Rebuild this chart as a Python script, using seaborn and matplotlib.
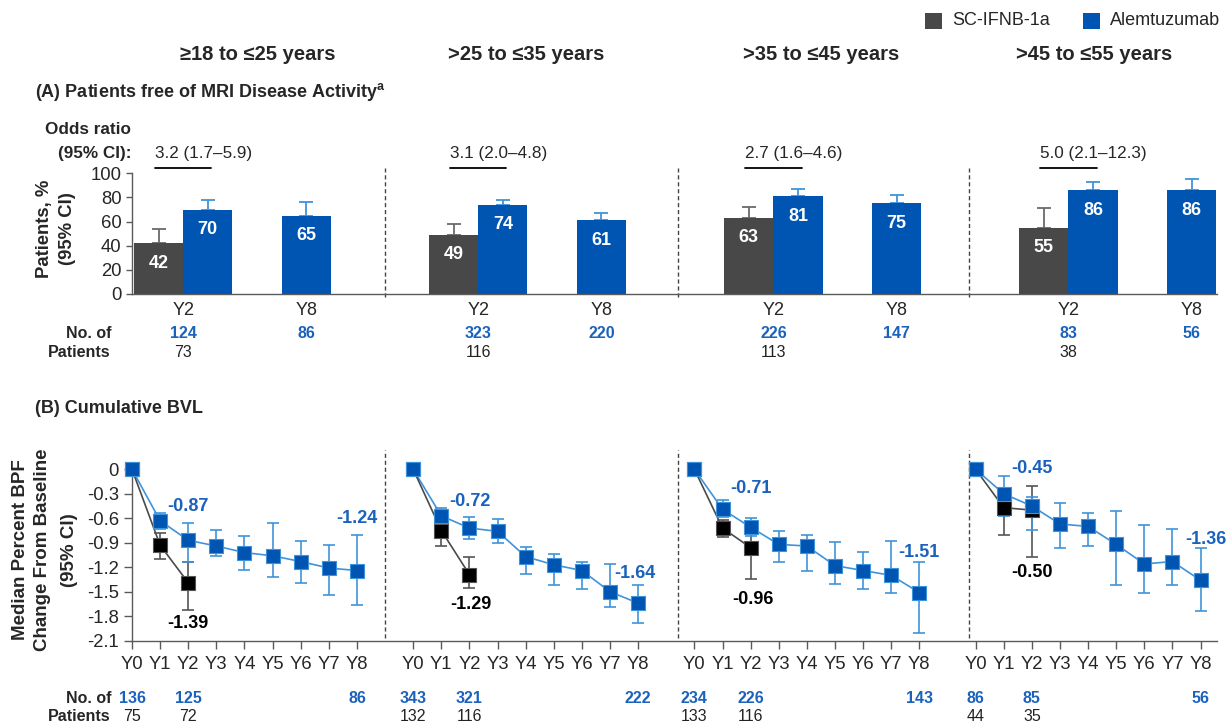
import numpy as np
import pandas as pd
import matplotlib
matplotlib.use("Agg")
import matplotlib.pyplot as plt
from matplotlib.patches import Rectangle
from matplotlib.transforms import blended_transform_factory
import seaborn as sns

# ---------------- data ----------------
age_groups = ["≥18 to ≤25 years", ">25 to ≤35 years", ">35 to ≤45 years", ">45 to ≤55 years"]
arms = ["SC-IFNB-1a", "Alemtuzumab"]

# (A) Patients free of MRI disease activity, % (upper 95% CI)
ifnb_y2_pct = [42, 49, 63, 55]
ifnb_y2_upper = [54, 58, 72, 71]
alem_y2_pct = [70, 74, 81, 86]
alem_y2_upper = [78, 78, 87, 93]
alem_y8_pct = [65, 61, 75, 86]
alem_y8_upper = [76, 67, 82, 95]
odds_ratios = ["3.2 (1.7–5.9)", "3.1 (2.0–4.8)", "2.7 (1.6–4.6)", "5.0 (2.1–12.3)"]
alem_y2_n_mri = [124, 323, 226, 83]
alem_y8_n_mri = [86, 220, 147, 56]
ifnb_y2_n_mri = [73, 116, 113, 38]

# (B) Cumulative BVL: median % BPF change from baseline with 95% CI
years = ["Y0", "Y1", "Y2", "Y3", "Y4", "Y5", "Y6", "Y7", "Y8"]
alem_bvl = [
    [0, -0.63, -0.87, -0.94, -1.02, -1.06, -1.13, -1.21, -1.24],
    [0, -0.57, -0.72, -0.76, -1.07, -1.17, -1.24, -1.50, -1.64],
    [0, -0.49, -0.71, -0.92, -0.94, -1.18, -1.24, -1.30, -1.51],
    [0, -0.30, -0.45, -0.67, -0.70, -0.92, -1.16, -1.13, -1.36],
]
alem_bvl_lo = [
    [0, -0.73, -1.14, -1.06, -1.23, -1.32, -1.39, -1.54, -1.66],
    [0, -0.63, -0.85, -0.90, -1.28, -1.42, -1.47, -1.69, -1.88],
    [0, -0.58, -0.82, -1.13, -1.24, -1.40, -1.47, -1.51, -2.01],
    [0, -0.57, -0.74, -0.97, -0.94, -1.42, -1.51, -1.42, -1.73],
]
alem_bvl_hi = [
    [0, -0.53, -0.66, -0.74, -0.82, -0.66, -0.88, -0.93, -0.81],
    [0, -0.47, -0.58, -0.61, -0.95, -1.04, -1.14, -1.16, -1.42],
    [0, -0.38, -0.60, -0.75, -0.80, -0.89, -1.01, -0.88, -1.14],
    [0, -0.08, -0.34, -0.41, -0.54, -0.51, -0.68, -0.73, -0.97],
]
ifnb_bvl = [
    [0, -0.93, -1.39],
    [0, -0.75, -1.29],
    [0, -0.72, -0.96],
    [0, -0.47, -0.50],
]
ifnb_bvl_lo = [
    [0, -1.10, -1.72],
    [0, -0.94, -1.45],
    [0, -0.83, -1.34],
    [0, -0.81, -1.08],
]
ifnb_bvl_hi = [
    [0, -0.78, -1.13],
    [0, -0.65, -1.08],
    [0, -0.62, -0.75],
    [0, -0.30, -0.20],
]
alem_n_bvl = [[136, 125, 86], [343, 321, 222], [234, 226, 143], [86, 85, 56]]
ifnb_n_bvl = [[75, 72], [132, 116], [133, 116], [44, 35]]

# ---------------- style ----------------
sns.set_theme(style="ticks")
plt.rcParams["font.family"] = ["Liberation Sans", "DejaVu Sans"]
plt.rcParams["mathtext.fontset"] = "custom"
plt.rcParams["mathtext.rm"] = "Liberation Sans"
plt.rcParams["mathtext.bf"] = "Liberation Sans:bold"

GRAY = "#484848"
BLUE = "#0055b2"
LIGHT_BLUE = "#3f93da"
ERR_GRAY = "#6a6a6a"
TXT_BLUE = "#1a62bd"
AXIS = "#5a5a5a"

W, H = 1231, 725


def fx(px):
    return px / W


def fy(py):
    return 1 - py / H


fig = plt.figure(figsize=(W / 100, H / 100), dpi=100)

# shared horizontal layout: one unit = one study year in panel B
XMAX = 38.6
UNIT_PX = 28.12
ax_left, ax_w = fx(132), XMAX * UNIT_PX / W
axA = fig.add_axes([ax_left, fy(294), ax_w, (294 - 173.3) / H])
axB = fig.add_axes([ax_left, fy(640.7), ax_w, (640.7 - 469.3) / H])

separators = [9.0, 19.4, 29.77]
group_step_b = 10
a_y2_center = [1.82, 12.31, 22.81, 33.30]
a_y8_shift = 4.38
bar_w = 1.75

# ---------------- panel A ----------------
rows = []
for g in range(4):
    c = a_y2_center[g]
    rows.append(dict(x=c - bar_w / 2, pct=ifnb_y2_pct[g], upper=ifnb_y2_upper[g], arm=arms[0]))
    rows.append(dict(x=c + bar_w / 2, pct=alem_y2_pct[g], upper=alem_y2_upper[g], arm=arms[1]))
    rows.append(dict(x=c + a_y8_shift, pct=alem_y8_pct[g], upper=alem_y8_upper[g], arm=arms[1]))
dfA = pd.DataFrame(rows)

sns.barplot(data=dfA, x="x", y="pct", hue="arm", palette={arms[0]: GRAY, arms[1]: BLUE},
            native_scale=True, width=1.0, dodge=False, saturation=1, errorbar=None,
            legend=False, ax=axA, zorder=2, linewidth=0)

for arm, col in [(arms[0], ERR_GRAY), (arms[1], LIGHT_BLUE)]:
    sub = dfA[dfA["arm"] == arm]
    axA.errorbar(sub["x"], sub["pct"], yerr=[np.zeros(len(sub)), sub["upper"] - sub["pct"]],
                 fmt="none", ecolor=col, elinewidth=1.3, capsize=5, capthick=1.3, zorder=1)

for _, r in dfA.iterrows():
    axA.annotate(f"{r['pct']:.0f}", (r["x"], r["pct"]), xytext=(0, -20), textcoords="offset pixels",
                 ha="center", va="center", color="white", fontsize=13, fontweight="bold", zorder=3)

for g in range(4):
    c = a_y2_center[g]
    axA.plot([c - 1.0, c + 1.0], [104.6, 104.6], color="black", lw=1.3, clip_on=False)
    axA.text(c - 1.0, 116.6, odds_ratios[g], ha="left", va="center", fontsize=12.3)

for s in separators:
    axA.plot([s, s], [-2.5, 104.4], ls=(0, (3, 2)), color="#444444", lw=1, clip_on=False)

axA.set_xlim(0, XMAX)
axA.set_ylim(0, 100)
axA.set_yticks(range(0, 101, 20))
xt = []
xl = []
for g in range(4):
    xt += [a_y2_center[g], a_y2_center[g] + a_y8_shift]
    xl += ["Y2", "Y8"]
axA.set_xticks(xt)
axA.set_xticklabels(xl)
axA.tick_params(axis="x", length=0, pad=6, labelsize=13)
axA.tick_params(axis="y", length=4.5, width=1, color=AXIS, pad=3, labelsize=13.3)
axA.set_xlabel("")
axA.set_ylabel("")
sns.despine(ax=axA)
for sp in ["left", "bottom"]:
    axA.spines[sp].set_color(AXIS)
    axA.spines[sp].set_linewidth(1)

trA = blended_transform_factory(axA.transData, fig.transFigure)
for g in range(4):
    c = a_y2_center[g]
    axA.text(c, fy(333.3), str(alem_y2_n_mri[g]), transform=trA, ha="center", va="center",
             color=TXT_BLUE, fontsize=11.5, fontweight="bold")
    axA.text(c, fy(352.7), str(ifnb_y2_n_mri[g]), transform=trA, ha="center", va="center",
             color="#222222", fontsize=11.5)
    axA.text(c + a_y8_shift, fy(333.3), str(alem_y8_n_mri[g]), transform=trA, ha="center",
             va="center", color=TXT_BLUE, fontsize=11.5, fontweight="bold")

# ---------------- panel B ----------------
rowsB = []
for g in range(4):
    for k in range(len(alem_bvl[g])):
        rowsB.append(dict(x=group_step_b * g + k, med=alem_bvl[g][k], lo=alem_bvl_lo[g][k],
                          hi=alem_bvl_hi[g][k], arm=arms[1], group=g))
    for k in range(len(ifnb_bvl[g])):
        rowsB.append(dict(x=group_step_b * g + k, med=ifnb_bvl[g][k], lo=ifnb_bvl_lo[g][k],
                          hi=ifnb_bvl_hi[g][k], arm=arms[0], group=g))
dfB = pd.DataFrame(rowsB)

sns.lineplot(data=dfB, x="x", y="med", hue="arm", units="group", estimator=None,
             palette={arms[0]: "#4a4a4a", arms[1]: LIGHT_BLUE}, lw=1.2, legend=False,
             sort=False, ax=axB, zorder=2, clip_on=False)

for arm, col in [(arms[0], "#555555"), (arms[1], LIGHT_BLUE)]:
    sub = dfB[(dfB["arm"] == arm) & (dfB["x"] % group_step_b != 0)]
    axB.errorbar(sub["x"], sub["med"], yerr=[sub["med"] - sub["lo"], sub["hi"] - sub["med"]],
                 fmt="none", ecolor=col, elinewidth=1.2, capsize=4, capthick=1.2, zorder=3)

sns.scatterplot(data=dfB[dfB["arm"] == arms[0]], x="x", y="med", marker="s", s=98,
                color="black", edgecolor="#555555", linewidth=0.8, zorder=4, clip_on=False,
                legend=False, ax=axB)
sns.scatterplot(data=dfB[dfB["arm"] == arms[1]], x="x", y="med", marker="s", s=98,
                color=BLUE, edgecolor=LIGHT_BLUE, linewidth=0.8, zorder=5, clip_on=False,
                legend=False, ax=axB)

# value labels (placement anchors in data units)
alem_y2_label_y = [-0.46, -0.40, -0.23, 0.01]
alem_y8_label_y = [-0.60, -1.28, -1.02, -0.86]
alem_y8_label_dx = [0, -0.12, 0, 0.19]
ifnb_y2_label_y = [-1.89, -1.66, -1.59, -1.27]
ifnb_y2_label_dx = [0, 0.05, 0.09, 0]
for g in range(4):
    x0 = group_step_b * g
    axB.text(x0 + 2, alem_y2_label_y[g], f"{alem_bvl[g][2]:.2f}", ha="center", va="center",
             color=TXT_BLUE, fontsize=13, fontweight="bold", zorder=6, clip_on=False)
    axB.text(x0 + 8 + alem_y8_label_dx[g], alem_y8_label_y[g], f"{alem_bvl[g][8]:.2f}",
             ha="center", va="center", color=TXT_BLUE, fontsize=13, fontweight="bold", zorder=6)
    axB.text(x0 + 2 + ifnb_y2_label_dx[g], ifnb_y2_label_y[g], f"{ifnb_bvl[g][2]:.2f}",
             ha="center", va="center", color="black", fontsize=13, fontweight="bold", zorder=6)

for s in separators:
    axB.plot([s, s], [-2.067, 0.236], ls=(0, (3, 2)), color="#444444", lw=1, clip_on=False)

axB.set_xlim(0, XMAX)
axB.set_ylim(-2.1, 0)
yt = np.round(np.arange(0, -2.11, -0.3), 1)
axB.set_yticks(yt)
axB.set_yticklabels(["0" if v == 0 else f"{v:.1f}" for v in yt])
bx = [group_step_b * g + k for g in range(4) for k in range(len(years))]
axB.set_xticks(bx)
axB.set_xticklabels(years * 4)
axB.tick_params(axis="x", length=5.8, width=1, color=AXIS, pad=5, labelsize=13.3)
axB.tick_params(axis="y", length=5.5, width=1, color=AXIS, pad=4, labelsize=13.3)
axB.set_xlabel("")
axB.set_ylabel("")
sns.despine(ax=axB)
axB.spines["left"].set_bounds(-2.1, 0)
for sp in ["left", "bottom"]:
    axB.spines[sp].set_color(AXIS)
    axB.spines[sp].set_linewidth(1)

trB = blended_transform_factory(axB.transData, fig.transFigure)
for g in range(4):
    x0 = group_step_b * g
    for k, n in zip([0, 2, 8], alem_n_bvl[g]):
        axB.text(x0 + k, fy(698.3), str(n), transform=trB, ha="center", va="center",
                 color=TXT_BLUE, fontsize=11.5, fontweight="bold")
    for k, n in zip([0, 2], ifnb_n_bvl[g]):
        axB.text(x0 + k, fy(716.7), str(n), transform=trB, ha="center", va="center",
                 color="#222222", fontsize=11.5)

# ---------------- figure text ----------------
for cx, lab in zip([258, 526, 821, 1094], age_groups):
    fig.text(fx(cx), fy(55), lab, ha="center", va="center", fontsize=14.5, fontweight="bold")

fig.text(fx(35), fy(91.7), r"(A) Patients free of MRI Disease Activity$^{\mathbf{a}}$",
         ha="left", va="center", fontsize=13, fontweight="bold")
fig.text(fx(35), fy(408.3), "(B) Cumulative BVL", ha="left", va="center",
         fontsize=13, fontweight="bold")

fig.text(fx(131), fy(129), "Odds ratio", ha="right", va="center", fontsize=12.3, fontweight="bold")
fig.text(fx(132), fy(153.3), "(95% CI):", ha="right", va="center", fontsize=12.3, fontweight="bold")

fig.text(fx(45), fy(229), "Patients, %", rotation=90, ha="center", va="center",
         fontsize=13.3, fontweight="bold")
fig.text(fx(68), fy(229), "(95% CI)", rotation=90, ha="center", va="center",
         fontsize=13.3, fontweight="bold")

fig.text(fx(21), fy(550), "Median Percent BPF", rotation=90, ha="center", va="center",
         fontsize=13.5, fontweight="bold")
fig.text(fx(43), fy(550), "Change From Baseline", rotation=90, ha="center", va="center",
         fontsize=13.5, fontweight="bold")
fig.text(fx(69), fy(550), "(95% CI)", rotation=90, ha="center", va="center",
         fontsize=13.5, fontweight="bold")

for py in (333.3, 698.3):
    fig.text(fx(111.7), fy(py), "No. of", ha="right", va="center", fontsize=11.5, fontweight="bold")
for py in (352.7, 716.7):
    fig.text(fx(110.5), fy(py), "Patients", ha="right", va="center", fontsize=11.5, fontweight="bold")

# legend
for (x0, col, lab) in [(925, GRAY, arms[0]), (1083, BLUE, arms[1])]:
    fig.patches.append(Rectangle((fx(x0), fy(28.5)), 17 / W, 16 / H, transform=fig.transFigure,
                                 facecolor=col, edgecolor="none"))
    fig.text(fx(x0 + 27), fy(20.7), lab, ha="left", va="center", fontsize=13)

fig.savefig("out.png", dpi=100)
